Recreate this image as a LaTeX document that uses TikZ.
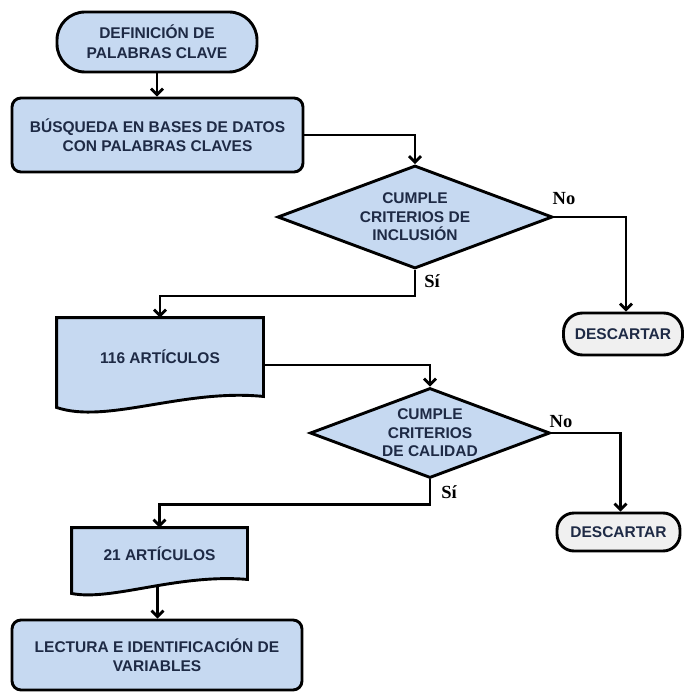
\documentclass[tikz,border=0pt]{standalone}
\usepackage{fontspec}
\setmainfont{Liberation Sans}
\newfontfamily\labfont{Liberation Serif}
\usetikzlibrary{shapes.geometric,arrows.meta,calc,backgrounds}
\definecolor{boxblue}{HTML}{C6D9F1}
\definecolor{boxgray}{HTML}{F0F0F0}
\definecolor{txt}{HTML}{1E2A45}
\begin{document}
\begin{tikzpicture}[x=1pt,y=-1pt,
  base/.style={draw=black, line width=2.9pt, text=txt,
    font=\fontsize{15.5}{18.5}\selectfont\bfseries, align=center, inner sep=0pt},
  term/.style={base, fill=boxblue, rounded corners=28pt},
  procbox/.style={base, fill=boxblue, rounded corners=9pt},
  decision/.style={base, fill=boxblue, shape=diamond, shape aspect=2.6},
  discard/.style={base, fill=boxgray},
  docbox/.style={base, draw=none, fill=none},
  docline/.style={draw=black, line width=2.9pt, fill=boxblue, line join=miter},
  conn/.style={draw=black, line width=2.8pt, -{Straight Barb[length=6pt,width=12pt]}},
  lab/.style={font=\labfont\fontsize{18.5}{20}\selectfont\bfseries, text=black, inner sep=0pt}]
\useasboundingbox (0,0) rectangle (684,692);

\node[term, minimum width=200pt, minimum height=60pt,
  font=\fontsize{15.5}{20}\selectfont\bfseries] (def) at (157,42)
  {DEFINICIÓN DE\\PALABRAS CLAVE};
\node[procbox, minimum width=291pt, minimum height=74pt] (bus) at (157.5,135)
  {BÚSQUEDA EN BASES DE DATOS\\CON PALABRAS CLAVES};
\node[decision, minimum width=275pt, minimum height=103pt] (d1) at (415,217)
  {CUMPLE\\CRITERIOS DE\\INCLUSIÓN};
\node[discard, rounded corners=19pt, minimum width=119pt, minimum height=42pt] (ds1) at (623,334)
  {DESCARTAR};
\node[docbox, minimum width=204pt, minimum height=76pt] (doc1) at (160,357)
  {116 ARTÍCULOS};
\node[decision, minimum width=240pt, minimum height=90pt] (d2) at (430,433)
  {CUMPLE\\CRITERIOS\\DE CALIDAD};
\node[discard, rounded corners=17pt, minimum width=123pt, minimum height=38pt] (ds2) at (618.5,532)
  {DESCARTAR};
\node[docbox, minimum width=173pt, minimum height=49pt] (doc2) at (159.5,553.5)
  {21 ARTÍCULOS};
\node[procbox, minimum width=290pt, minimum height=70pt] (lec) at (157,655)
  {LECTURA E IDENTIFICACIÓN DE\\VARIABLES};

\begin{scope}[on background layer]
  \draw[docline] (doc1.south east) -- (doc1.north east) -- (doc1.north west)
    -- ($(doc1.south west)+(0,11)$)
    .. controls ($(doc1.south west)+(50,28)$) and ($(doc1.south east)+(-80,-8)$) .. (doc1.south east)
    -- cycle;
  \draw[docline] (doc2.south east) -- (doc2.north east) -- (doc2.north west)
    -- ($(doc2.south west)+(0,14)$)
    .. controls ($(doc2.south west)+(40,22)$) and ($(doc2.south east)+(-70,-6)$) .. (doc2.south east)
    -- cycle;
\end{scope}
\coordinate (doc2w) at ($(doc2.south)+(-2,8)$);

\draw[conn] (def.south) -- (def.south |- bus.north);
\draw[conn] (bus.east) -| (d1.north);
\draw[conn] (d1.east) -| ([xshift=3pt]ds1.north);
\draw[conn] (d1.south) -- ++(0,26) -| (doc1.north);
\draw[conn] ([yshift=-8pt]doc1.east) -| (d2.north);
\draw[conn] (d2.east) -| ([xshift=2pt]ds2.north);
\draw[conn] (d2.south) -- ++(0,25) -| (doc2.north);
\draw[conn] (doc2w) -- (doc2w |- lec.north);

\node[lab] (no1) at (564,199) {No};
\node[lab] (si1) at (432,281) {Sí};
\node[lab] (no2) at (561,422) {No};
\node[lab] (si2) at (449,492) {Sí};
\end{tikzpicture}
\end{document}
